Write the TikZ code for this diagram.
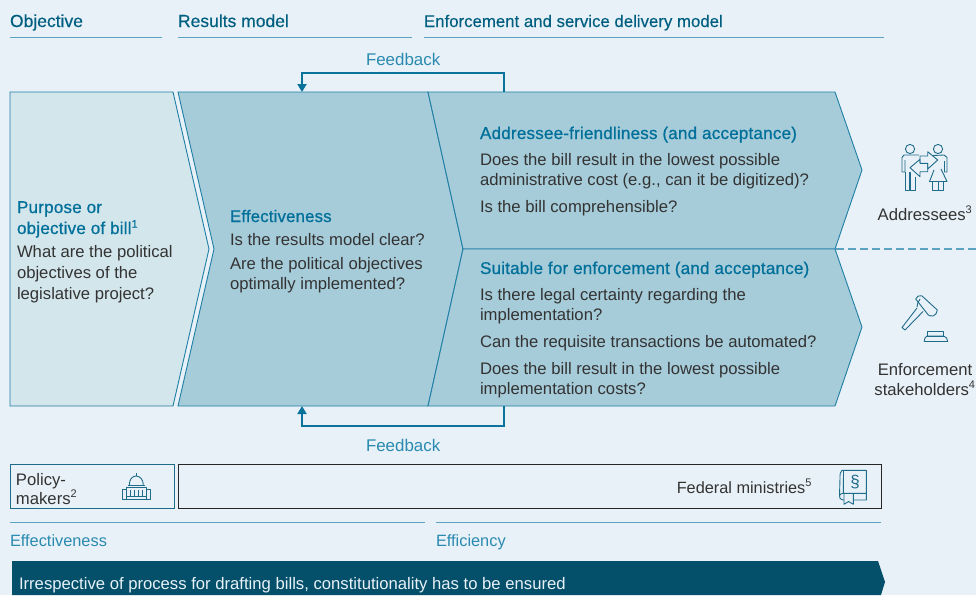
\documentclass[tikz,border=0pt]{standalone}
\usepackage{fontspec}
\setmainfont{Liberation Sans}
\newfontfamily\medfont[FakeBold=0.7,LetterSpace=1.0]{Liberation Sans}
\newfontfamily\headfont[FakeBold=0.2]{Liberation Sans}
\usetikzlibrary{arrows.meta}
\definecolor{bgc}{HTML}{E8F1F7}
\definecolor{lightc}{HTML}{D3E6EC}
\definecolor{midc}{HTML}{A6CBD9}
\definecolor{edgec}{HTML}{1F7FA5}
\definecolor{darkc}{HTML}{04506B}
\definecolor{headc}{HTML}{005F80}
\definecolor{linkc}{HTML}{2A8AB0}
\definecolor{ttlc}{HTML}{00709A}
\definecolor{txtc}{HTML}{333333}
\definecolor{fbc}{HTML}{0A739C}
\definecolor{rulec}{HTML}{5BA3C0}
\definecolor{iconc}{HTML}{1F6B8A}
\tikzset{
  txt/.style={anchor=base west,inner sep=0pt,outer sep=0pt,text=txtc,font=\fontsize{16.67}{16.67}\selectfont},
  txtm/.style={anchor=base,inner sep=0pt,outer sep=0pt,text=txtc,font=\fontsize{16.67}{16.67}\selectfont},
  head/.style={anchor=base west,inner sep=0pt,outer sep=0pt,text=headc,font=\headfont\fontsize{17.5}{17.5}\selectfont},
  ttl/.style={anchor=base west,inner sep=0pt,outer sep=0pt,text=ttlc,font=\medfont\fontsize{17.1}{17.1}\selectfont},
  lnk/.style={anchor=base west,inner sep=0pt,outer sep=0pt,text=linkc,font=\fontsize{16.35}{16.35}\selectfont},
  shp/.style={draw=edgec,line width=0.9pt,line join=miter},
  rulel/.style={draw=rulec,line width=1pt},
  fb/.style={draw=fbc,line width=2pt,-{Triangle[length=8pt,width=9pt]}},
  ico/.style={draw=iconc,line width=0.9pt,line join=round,fill=none},
}
\newcommand{\sups}[1]{\textsuperscript{\fontsize{11}{11}\selectfont #1}}
\begin{document}
\begin{tikzpicture}[x=1pt,y=-1pt]
\useasboundingbox (0,0) rectangle (976,595);
\fill[bgc] (0,0) rectangle (976,595);
% headers
\node[head] (h1) at (10,27) {Objective};
\node[head] (h2) at (178,27) {Results model};
\node[head,font=\headfont\fontsize{16.8}{16.8}\selectfont] (h3) at (424,27) {Enforcement and service delivery model};
\draw[rulel] (10,37) -- (162,37);
\draw[rulel] (178,37) -- (412,37);
\draw[rulel] (424,37) -- (884,37);
% shapes
\draw[shp,fill=lightc] (10,92) -- (173,92) -- (209,249) -- (173,406) -- (10,406) -- cycle;
\draw[shp,fill=midc] (178,92) -- (428,92) -- (463,249) -- (428,406) -- (178,406) -- (214,249) -- cycle;
\draw[shp,fill=midc] (428,92) -- (835,92) -- (862,170) -- (835,249) -- (463,249) -- cycle;
\draw[shp,fill=midc] (463,249) -- (835,249) -- (862,327) -- (835,406) -- (428,406) -- cycle;
\draw[draw=rulec,line width=1.2pt,dash pattern=on 8pt off 4pt] (836,249) -- (976,249);
% feedback
\coordinate (ft) at (504,92);
\coordinate (fta) at (302,92);
\coordinate (fb) at (504,406);
\coordinate (fba) at (302,406);
\draw[fb] (ft) -- (504,73) -- (302,73) -- (fta);
\draw[fb] (fb) -- (504,425.5) -- (302,425.5) -- (fba);
\node[lnk,font=\fontsize{16.9}{16.9}\selectfont] (l1) at (366,65) {Feedback};
\node[lnk,font=\fontsize{16.9}{16.9}\selectfont] (l2) at (366,451) {Feedback};
% left
\node[ttl] (a1) at (17,213) {Purpose or};
\node[ttl] (a2) at (17,234) {objective of bill\sups{1}};
\node[txt] (a3) at (17,257) {What are the political};
\node[txt] (a4) at (17,278) {objectives of the};
\node[txt] (a5) at (17,299) {legislative project?};
% middle
\node[ttl,font=\medfont\fontsize{16.8}{16.8}\selectfont] (b1) at (230,222) {Effectiveness};
\node[txt] (b2) at (230,245) {Is the results model clear?};
\node[txt] (b3) at (230,269) {Are the political objectives};
\node[txt] (b4) at (230,289) {optimally implemented?};
% upper
\node[ttl] (c1) at (480,139) {Addressee-friendliness (and acceptance)};
\node[txt] (c2) at (480,165) {Does the bill result in the lowest possible};
\node[txt] (c3) at (480,185) {administrative cost (e.g., can it be digitized)?};
\node[txt] (c4) at (480,212) {Is the bill comprehensible?};
% lower
\node[ttl] (d1) at (480,274) {Suitable for enforcement (and acceptance)};
\node[txt] (d2) at (480,300) {Is there legal certainty regarding the};
\node[txt] (d3) at (480,320) {implementation?};
\node[txt] (d4) at (480,347) {Can the requisite transactions be automated?};
\node[txt] (d5) at (480,374) {Does the bill result in the lowest possible};
\node[txt] (d6) at (480,394) {implementation costs?};
% side labels
\node[txtm] (e1) at (925,220) {Addressees\sups{3}};
\node[txtm] (e2) at (925,375) {Enforcement};
\node[txtm] (e3) at (925,395) {stakeholders\sups{4}};
% boxes
\draw[draw=iconc,line width=1pt] (10,464) rectangle (174,508);
\draw[draw=black!85,line width=1pt] (178,464) rectangle (881,508);
\node[txt] (f1) at (16,485) {Policy-};
\node[txt] (f2) at (16,504) {makers\sups{2}};
\node[txt,anchor=base east,font=\fontsize{16.3}{16.3}\selectfont] (f3) at (812,493) {Federal ministries\sups{5}};
% rules
\draw[rulel] (10,522) -- (425,522);
\draw[rulel] (436,522) -- (881,522);
\node[lnk] (g1) at (10,546) {Effectiveness};
\node[lnk] (g2) at (436,546) {Efficiency};
% bar
\fill[darkc] (12,561) -- (878,561) -- (885,582) -- (881,595) -- (12,595) -- cycle;
\node[txt,text=bgc] (g3) at (19,589) {Irrespective of process for drafting bills, constitutionality has to be ensured};
% people icon
\begin{scope}[ico]
\draw (910,149) circle (4.6);
\draw (938,149) circle (4.6);
\draw (919,155) -- (904,155) -- (902,157.5) -- (902,172) -- (905,172) -- (905,160);
\draw (905,172) -- (905,190.5) -- (909.8,190.5) -- (909.8,172) -- (910.6,172) -- (910.6,190.5) -- (915.6,190.5) -- (915.6,176.5);
\draw (933,155.5) -- (944,155) -- (947,157.5) -- (947,172) -- (944.5,172) -- (944.5,161);
\draw (941,169) -- (947,181.5) -- (929.5,181.5) -- (934,170);
\draw (932.8,181.5) -- (932.8,190.5) -- (943,190.5) -- (943,181.5) (938,181.5) -- (938,190.5);
\draw (920,163) -- (920,156) -- (927.7,156) -- (927.7,151.7) -- (937.7,160) -- (927.7,169) -- (927.7,163.3);
\draw (910,167.7) -- (920,159.3) -- (920,163.3) -- (927.7,163.3) -- (927.7,171.7) -- (920,171.7) -- (920,176.7) -- cycle;
\end{scope}
% hammer icon
\begin{scope}[ico]
\draw (915.7,299) .. controls (916.5,296.5) and (919,295) .. (921.7,295.7) -- (937.3,310) .. controls (937,313) and (935.5,315.5) .. (933,316) .. controls (931,316) and (929.5,316) .. (928.3,315) -- cycle;
\draw (920,299) .. controls (918,302) and (917,304) .. (917,307);
\draw (917,308) -- (902,327.5) -- (905,330) -- (923,311.5);
\draw (927.7,331.7) rectangle (943.3,336);
\draw (927,336) -- (943.5,336) .. controls (946,336.5) and (947.7,338.5) .. (947.7,341.5) -- (924.3,341.5) .. controls (924.3,338.5) and (925,337) .. (927,336) -- cycle;
\end{scope}
% capitol icon
\begin{scope}[ico]
\draw (126,489.3) -- (122.3,489.3) -- (122.3,499.3) -- (150,499.3) -- (150,489.3) -- (146,489.3);
\draw (126,499.3) -- (126,487.3) -- (146,487.3) -- (146,499.3);
\draw (127.7,485) -- (145,485);
\draw (129.3,485) .. controls (129.3,479) and (132.5,476) .. (136,476) .. controls (139.5,476) and (143.3,479) .. (143.3,485);
\draw (136,473) -- (136,476);
\draw (130,490) -- (130,495.7) (134,490) -- (134,495.7) (138,490) -- (138,495.7) (142,490) -- (142,495.7);
\draw (126,496.8) -- (146,496.8);
\end{scope}
% book icon
\begin{scope}[ico]
\draw (866.3,493.3) -- (866.3,470.3) -- (842,470.3) .. controls (840,472) and (840,474) .. (840,478) -- (839.5,495.5) .. controls (839.5,498) and (840,500) .. (843,500) -- (844,500);
\draw (853.3,500) -- (866.3,500) -- (866.3,493.3) -- (844,493.3) .. controls (841.5,493.3) and (840,494) .. (839.5,495.5);
\draw (843.5,470.3) -- (843.3,493.3);
\draw (844,493.3) -- (844,504.3) -- (848.6,501.5) -- (853.3,504.3) -- (853.3,493.3);
\end{scope}
\node[anchor=center,inner sep=0pt,text=iconc,font=\fontsize{17}{17}\selectfont] (bk) at (855,482.3) {§};
\end{tikzpicture}
\end{document}
